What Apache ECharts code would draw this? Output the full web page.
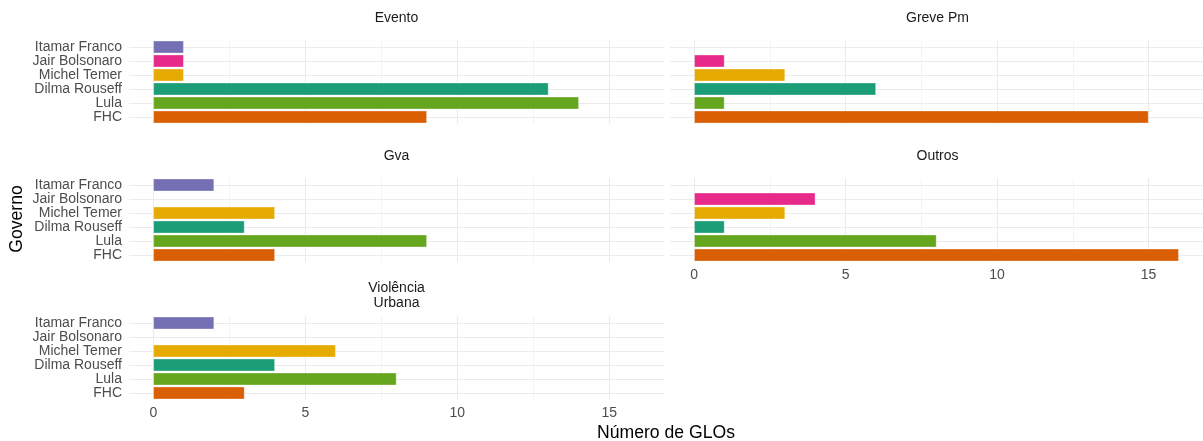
<!DOCTYPE html>
<html>
<head>
<meta charset="utf-8">
<script src="https://cdn.jsdelivr.net/npm/echarts@6/dist/echarts.min.js"></script>
<style>
  html, body { margin: 0; padding: 0; background: #fff; }
  #chart { width: 1203px; height: 441px; }
</style>
</head>
<body>
<div id="chart"></div>
<script>
// Governments, bottom to top
const categories = ['FHC', 'Lula', 'Dilma Rouseff', 'Michel Temer', 'Jair Bolsonaro', 'Itamar Franco'];

// Number of GLOs per government, one array per motive (null = no bar)
const evento          = [9, 14, 13, 1, 1, 1];
const grevePm         = [15, 1, 6, 3, 1, null];
const gva             = [4, 9, 3, 4, null, 2];
const outros          = [16, 8, 1, 3, 4, null];
const violenciaUrbana = [3, 8, 4, 6, null, 2];

// Facet titles
const facetTitles = ['Evento', 'Greve Pm', 'Gva', 'Outros', 'Violência\nUrbana'];

// X axis breaks
const xTicks = [0, 5, 10, 15];
const xMinorTicks = [2.5, 7.5, 12.5];

// Dark2 colours per government
const govColors = {
  'FHC': '#D95F02',
  'Lula': '#66A61E',
  'Dilma Rouseff': '#1B9E77',
  'Michel Temer': '#E6AB02',
  'Jair Bolsonaro': '#E7298A',
  'Itamar Franco': '#7570B3'
};

const facetValues = [evento, grevePm, gva, outros, violenciaUrbana];

// facet_wrap layout: 2 columns, 3 rows
const colLeft = [129, 670];
const panelWidth = 535;
const rowTop = [40, 178, 316];
const panelHeight = 84;
const FONT = 'Liberation Sans, Arial, sans-serif';

const grids = [], xAxes = [], yAxes = [], series = [], titles = [];

facetValues.forEach((vals, i) => {
  const col = i % 2;
  const row = Math.floor(i / 2);
  const showXLabels = (i === 3 || i === 4);
  const showYLabels = col === 0;

  grids.push({ left: colLeft[col], top: rowTop[row], width: panelWidth, height: panelHeight, containLabel: false });

  xAxes.push({
    type: 'value', gridIndex: i, min: -0.8, max: 16.8,
    axisLine: { show: false }, axisTick: { show: false }, splitLine: { show: false },
    axisLabel: {
      show: showXLabels, customValues: xTicks, color: '#4D4D4D',
      fontSize: 14, fontFamily: FONT, margin: 6,
      showMinLabel: true, showMaxLabel: true
    }
  });

  yAxes.push({
    type: 'category', gridIndex: i, data: categories,
    axisLine: { show: false }, axisTick: { show: false }, splitLine: { show: false },
    axisLabel: { show: showYLabels, interval: 0, color: '#4D4D4D', fontSize: 14, fontFamily: FONT, margin: 7 }
  });

  const gridLines = [];
  xTicks.forEach(v => gridLines.push({ xAxis: v, lineStyle: { width: 1.1 } }));
  xMinorTicks.forEach(v => gridLines.push({ xAxis: v, lineStyle: { width: 0.55 } }));
  categories.forEach((c, k) => gridLines.push({ yAxis: k, lineStyle: { width: 1.1 } }));

  series.push({
    type: 'bar', xAxisIndex: i, yAxisIndex: i,
    data: vals, barWidth: '90%', z: 2,
    itemStyle: {
      color: p => govColors[categories[p.dataIndex]],
      borderColor: 'rgba(255,255,255,0.55)', borderWidth: 0.6
    },
    animation: false,
    markLine: {
      z: 1, silent: true, animation: false,
      symbol: ['none', 'none'],
      label: { show: false },
      lineStyle: { color: '#EBEBEB', type: 'solid' },
      emphasis: { disabled: true },
      data: gridLines
    }
  });

  const lines = facetTitles[i].split('\n').length;
  titles.push({
    text: facetTitles[i],
    left: colLeft[col] + panelWidth / 2, top: lines === 1 ? (row === 0 ? 10 : 148) : 281,
    textAlign: 'center', padding: 0,
    textStyle: { fontSize: 14, fontWeight: 'normal', color: '#1A1A1A', fontFamily: FONT, lineHeight: lines === 1 ? 16 : 14.5 }
  });
});

const chart = echarts.init(document.getElementById('chart'), null, { renderer: 'canvas' });
chart.setOption({
  animation: false,
  backgroundColor: '#fff',
  title: titles,
  grid: grids,
  xAxis: xAxes,
  yAxis: yAxes,
  series: series,
  graphic: [
    {
      type: 'text', x: 666, y: 433,
      style: { text: 'Número de GLOs', fontSize: 17.6, fontFamily: FONT, fill: '#000', align: 'center', verticalAlign: 'middle' }
    },
    {
      type: 'text', x: 17, y: 219, rotation: Math.PI / 2,
      style: { text: 'Governo', fontSize: 17.6, fontFamily: FONT, fill: '#000', align: 'center', verticalAlign: 'middle' }
    }
  ]
});
</script>
</body>
</html>
